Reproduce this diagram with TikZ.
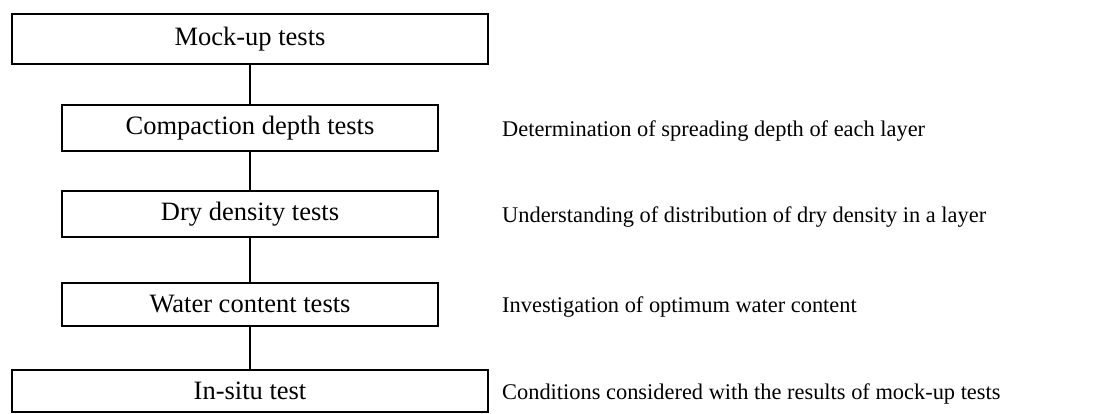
\documentclass[tikz,border=0pt]{standalone}
\usepackage{fontspec}
\setmainfont{Liberation Serif}
\usetikzlibrary{positioning}

\begin{document}
\begin{tikzpicture}[
  x=1pt,y=-1pt,
  font=\fontsize{22.4}{26}\selectfont,
  box/.style={draw,line width=2pt,minimum height=46pt,minimum width=376pt,inner sep=0pt,
    font=\fontsize{26.5}{30}\selectfont},
  wide/.style={box,minimum width=476pt},
  note/.style={anchor=west,inner sep=0pt,yshift=-3pt},
  line/.style={line width=1.3pt}
]
\useasboundingbox (0,0) rectangle (1108,414);

% ---- test boxes (top to bottom) ----
\node[wide,minimum height=50pt] (mock) at (250,39) {Mock-up tests};
\node[box,below=39pt of mock] (comp) {Compaction depth tests};
\node[box,below=38pt of comp] (dry) {Dry density tests};
\node[box,minimum height=43pt,below=44pt of dry] (water) {Water content tests};
\node[wide,minimum height=42pt,below=42pt of water] (insitu) {In-situ test};

% ---- links ----
\draw[line] (mock) -- (comp);
\draw[line] (comp) -- (dry);
\draw[line] (dry) -- (water);
\draw[line] (water) -- (insitu);

% ---- notes on the right ----
\coordinate (notex) at (502,0);
\node[note] (ncomp) at (notex |- comp) {Determination of spreading depth of each layer};
\node[note] (ndry) at (notex |- dry) {Understanding of distribution of dry density in a layer};
\node[note] (nwater) at (notex |- water) {Investigation of optimum water content};
\node[note] (ninsitu) at (notex |- insitu) {Conditions considered with the results of mock-up tests};

\end{tikzpicture}
\end{document}
